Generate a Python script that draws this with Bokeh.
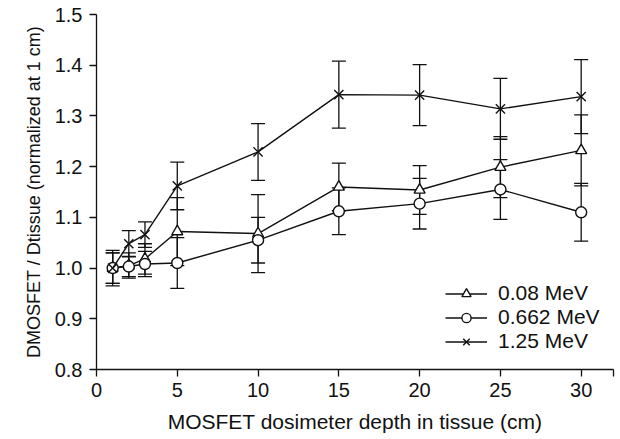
from bokeh.plotting import figure
from bokeh.models import (ColumnDataSource, Whisker, TeeHead, Legend, LegendItem,
                          FixedTicker, Range1d)
from bokeh.embed import file_html
from bokeh.resources import INLINE

# ---- data ----
depths = [1, 2, 3, 5, 10, 15, 20, 25, 30]
mev008 = [1.000, 1.005, 1.018, 1.072, 1.068, 1.160, 1.154, 1.199, 1.232]
mev008_err = [0.035, 0.025, 0.030, 0.067, 0.077, 0.047, 0.048, 0.060, 0.070]
mev0662 = [1.000, 1.003, 1.008, 1.010, 1.055, 1.112, 1.127, 1.155, 1.110]
mev0662_err = [0.030, 0.020, 0.025, 0.050, 0.045, 0.046, 0.050, 0.059, 0.057]
mev125 = [1.000, 1.048, 1.066, 1.162, 1.229, 1.342, 1.341, 1.314, 1.338]
mev125_err = [0.030, 0.026, 0.025, 0.047, 0.056, 0.066, 0.060, 0.060, 0.073]

series_labels = ["0.08 MeV", "0.662 MeV", "1.25 MeV"]
x_ticks = [0, 5, 10, 15, 20, 25, 30, 32]
y_ticks = [0.8, 0.9, 1.0, 1.1, 1.2, 1.3, 1.4, 1.5]

FONT = "Liberation Sans"
INK = "#111111"

p = figure(width=616, height=435, output_backend="svg", toolbar_location=None,
           x_range=Range1d(0, 32), y_range=Range1d(0.8, 1.5),
           min_border_left=96, min_border_top=14, min_border_right=3,
           min_border_bottom=65)
p.grid.visible = False
p.outline_line_color = None
p.background_fill_color = "white"
p.border_fill_color = "white"

# axes
p.xaxis.ticker = FixedTicker(ticks=x_ticks)
p.xaxis.major_label_overrides = {32: ""}
p.yaxis.ticker = FixedTicker(ticks=y_ticks)
p.yaxis.major_label_overrides = {v: f"{v:.1f}" for v in y_ticks}
for ax in (p.xaxis, p.yaxis):
    ax.axis_line_color = INK
    ax.axis_line_width = 1.3
    ax.major_tick_line_color = INK
    ax.major_tick_line_width = 1.3
    ax.major_tick_in = 0
    ax.major_tick_out = 7
    ax.minor_tick_line_color = None
    ax.major_label_text_font = FONT
    ax.major_label_text_font_size = "20px"
    ax.major_label_text_color = INK
    ax.axis_label_text_font = FONT
    ax.axis_label_text_font_style = "normal"
    ax.axis_label_text_color = INK
p.xaxis.major_label_standoff = 6
p.yaxis.major_label_standoff = 7
p.xaxis.axis_label = "MOSFET dosimeter depth in tissue (cm)"
p.xaxis.axis_label_text_font_size = "21px"
p.xaxis.axis_label_standoff = 10
p.yaxis.axis_label = "DMOSFET / Dtissue (normalized at 1 cm)"
p.yaxis.axis_label_text_font_size = "18px"
p.yaxis.axis_label_standoff = 8

series = [
    (mev008, mev008_err, "triangle", 11),
    (mev0662, mev0662_err, "circle", 11),
    (mev125, mev125_err, "x", 13),
]

items = []
for (vals, errs, marker, size), label in zip(series, series_labels):
    src = ColumnDataSource(dict(
        x=depths, y=vals,
        upper=[v + e for v, e in zip(vals, errs)],
        lower=[v - e for v, e in zip(vals, errs)],
    ))
    w = Whisker(source=src, base="x", upper="upper", lower="lower",
                dimension="height", line_color=INK, line_width=1.3,
                upper_head=TeeHead(size=14, line_color=INK, line_width=1.3),
                lower_head=TeeHead(size=14, line_color=INK, line_width=1.3))
    p.add_layout(w)
    ln = p.line("x", "y", source=src, line_color=INK, line_width=1.4)
    sc = p.scatter("x", "y", source=src, marker=marker, size=size,
                   line_color=INK, line_width=1.4, fill_color="white")
    items.append(LegendItem(label=label, renderers=[ln, sc]))

legend = Legend(items=items, location=(349, 16), orientation="vertical",
                padding=0, spacing=0, margin=0,
                glyph_width=42, glyph_height=23, label_height=23,
                label_standoff=11,
                label_text_font=FONT, label_text_font_size="21px",
                label_text_color=INK,
                border_line_color=None, background_fill_alpha=0)
p.add_layout(legend)

open("out.html", "w").write(file_html(p, INLINE))
